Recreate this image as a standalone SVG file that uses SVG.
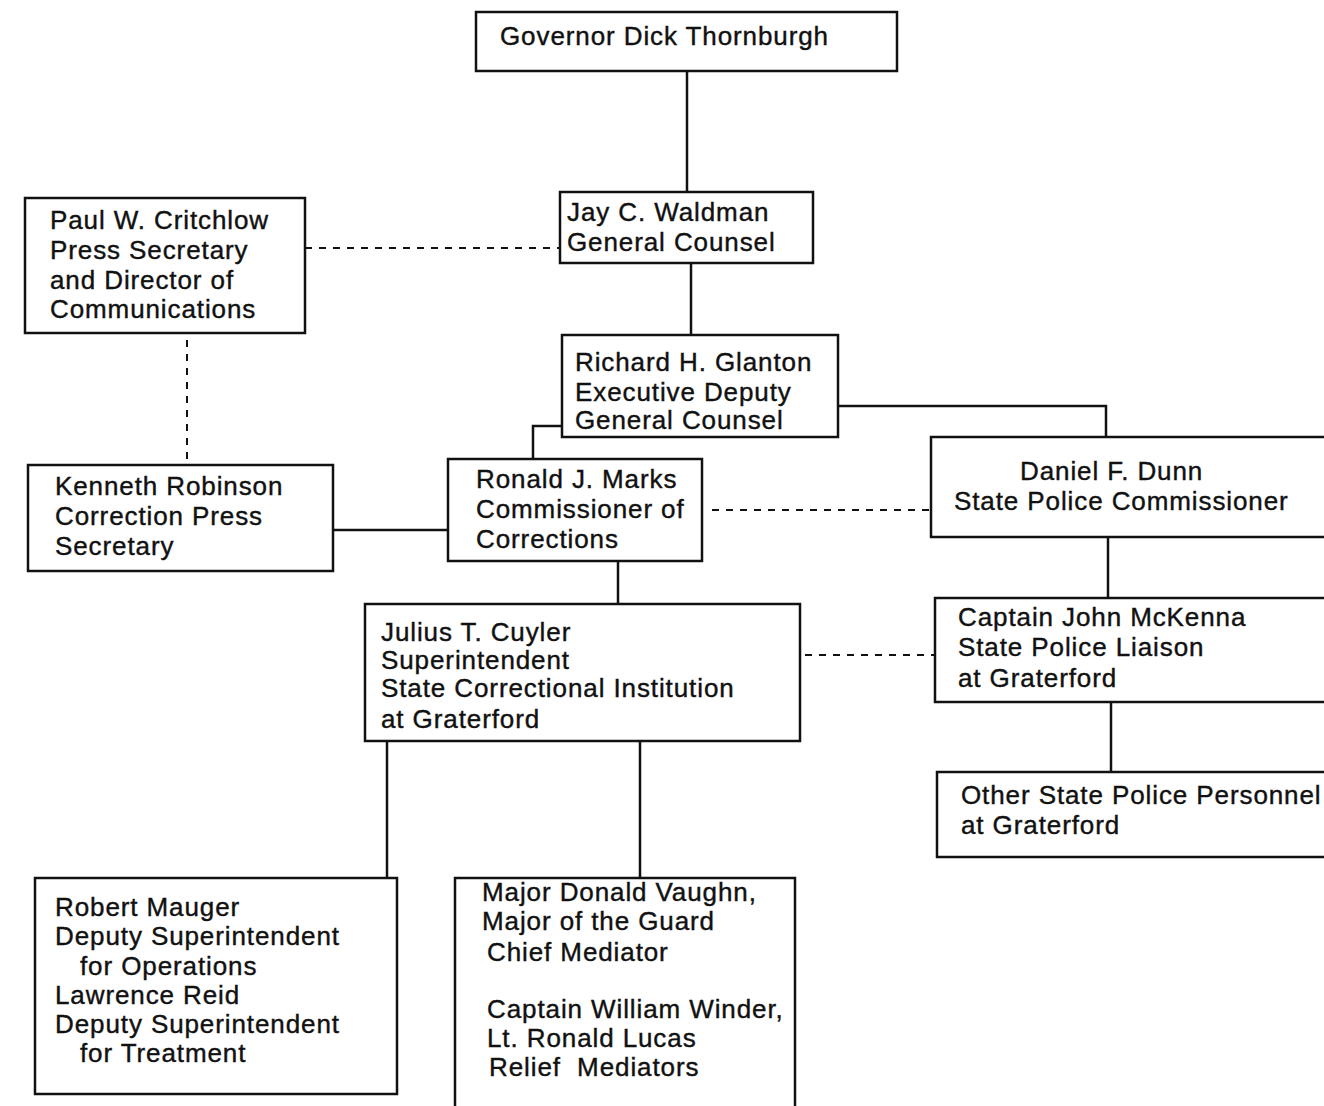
<svg xmlns="http://www.w3.org/2000/svg" width="1324" height="1106" viewBox="0 0 1324 1106">
<style>
.b{fill:#fff;stroke:#111;stroke-width:2.5}
.t{font-family:"Liberation Sans",Arial,sans-serif;font-size:26px;letter-spacing:0.9px;fill:#111;stroke:#111;stroke-width:0.4}
.c{fill:none;stroke:#111;stroke-width:2.5}
.d{fill:none;stroke:#111;stroke-width:2;stroke-dasharray:7,7}
</style>
<rect width="1324" height="1106" fill="#fff"/>
<g id="connectors">
<path class="c" d="M687 71V192"/>
<path class="c" d="M691 263V335"/>
<path class="d" d="M305 248H560"/>
<path class="d" d="M187 340V465"/>
<path class="c" d="M562 426H533V459"/>
<path class="c" d="M838 406H1106V437"/>
<path class="c" d="M333 530H448"/>
<path class="d" d="M712 510H931"/>
<path class="c" d="M618 561V604"/>
<path class="d" d="M805 655H935"/>
<path class="c" d="M1108 537V598"/>
<path class="c" d="M1111 702V772"/>
<path class="c" d="M387 741V878"/>
<path class="c" d="M640 741V878"/>
</g>
<g id="governor"><rect class="b" x="476" y="12" width="421" height="59"/><text class="t" x="500" y="45">Governor Dick Thornburgh</text></g>
<g id="waldman"><rect class="b" x="560" y="192" width="253" height="71"/><text class="t" x="567" y="221">Jay C. Waldman</text><text class="t" x="567" y="251">General Counsel</text></g>
<g id="critchlow"><rect class="b" x="25" y="198" width="280" height="135"/><text class="t" x="50" y="229">Paul W. Critchlow</text><text class="t" x="50" y="259">Press Secretary</text><text class="t" x="50" y="289">and Director of</text><text class="t" x="50" y="318">Communications</text></g>
<g id="glanton"><rect class="b" x="562" y="335" width="276" height="102"/><text class="t" x="575" y="371">Richard H. Glanton</text><text class="t" x="575" y="401">Executive Deputy</text><text class="t" x="575" y="429">General Counsel</text></g>
<g id="robinson"><rect class="b" x="28" y="465" width="305" height="106"/><text class="t" x="55" y="495">Kenneth Robinson</text><text class="t" x="55" y="525">Correction Press</text><text class="t" x="55" y="555">Secretary</text></g>
<g id="marks"><rect class="b" x="448" y="459" width="254" height="102"/><text class="t" x="476" y="488">Ronald J. Marks</text><text class="t" x="476" y="518">Commissioner of</text><text class="t" x="476" y="548">Corrections</text></g>
<g id="dunn"><path class="b" d="M1330 437H931V537H1330"/><text class="t" x="1020" y="480">Daniel F. Dunn</text><text class="t" x="954" y="510">State Police Commissioner</text></g>
<g id="cuyler"><rect class="b" x="365" y="604" width="435" height="137"/><text class="t" x="381" y="641">Julius T. Cuyler</text><text class="t" x="381" y="669">Superintendent</text><text class="t" x="381" y="697">State Correctional Institution</text><text class="t" x="381" y="728">at Graterford</text></g>
<g id="mckenna"><path class="b" d="M1330 598H935V702H1330"/><text class="t" x="958" y="626">Captain John McKenna</text><text class="t" x="958" y="656">State Police Liaison</text><text class="t" x="958" y="687">at Graterford</text></g>
<g id="other"><path class="b" d="M1330 772H937V857H1330"/><text class="t" x="961" y="804">Other State Police Personnel</text><text class="t" x="961" y="834">at Graterford</text></g>
<g id="mauger"><rect class="b" x="35" y="878" width="362" height="216"/><text class="t" x="55" y="916">Robert Mauger</text><text class="t" x="55" y="945">Deputy Superintendent</text><text class="t" x="80" y="975">for Operations</text><text class="t" x="55" y="1004">Lawrence Reid</text><text class="t" x="55" y="1033">Deputy Superintendent</text><text class="t" x="80" y="1062">for Treatment</text></g>
<g id="vaughn"><path class="b" d="M455 1110V878H795V1110"/><text class="t" x="482" y="901">Major Donald Vaughn,</text><text class="t" x="482" y="930">Major of the Guard</text><text class="t" x="487" y="961">Chief Mediator</text><text class="t" x="487" y="1018">Captain William Winder,</text><text class="t" x="487" y="1047">Lt. Ronald Lucas</text><text class="t" x="489" y="1076" xml:space="preserve">Relief  Mediators</text></g>
</svg>
